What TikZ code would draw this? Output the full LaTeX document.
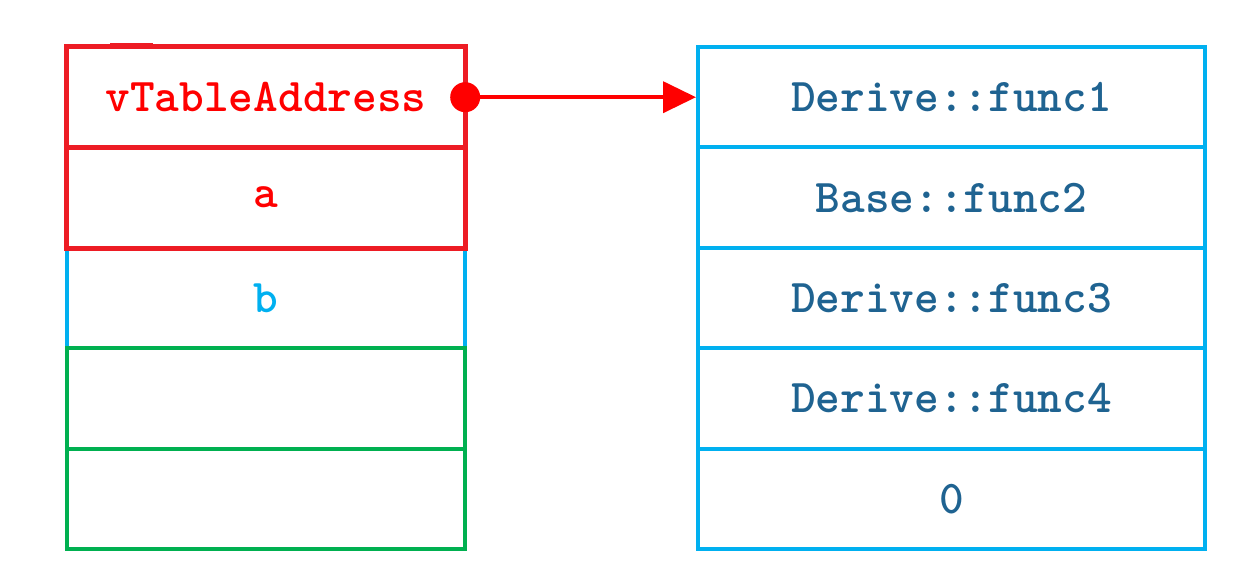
\documentclass[tikz,border=0pt]{standalone}
\usepackage{fontspec}
\usetikzlibrary{arrows.meta}
\definecolor{boxred}{HTML}{ED1C24}
\definecolor{txtred}{HTML}{FF0000}
\definecolor{boxcyan}{HTML}{00B0F0}
\definecolor{boxgreen}{HTML}{00B050}
\definecolor{txtblue}{HTML}{1F6391}
\begin{document}
\begin{tikzpicture}[x=1pt,y=-1pt,
  lcell/.style={rectangle, inner sep=0pt, minimum width=398pt, minimum height=100.4pt,
    font=\ttfamily\bfseries\fontsize{47}{47}\selectfont},
  rcell/.style={rectangle, inner sep=0pt, minimum width=507pt, minimum height=100.4pt,
    draw=boxcyan, line width=4pt, text=txtblue,
    font=\ttfamily\bfseries\fontsize{47}{47}\selectfont},
  redline/.style={draw=boxred, line width=5pt},
  cyanline/.style={draw=boxcyan, line width=4pt},
  greenline/.style={draw=boxgreen, line width=3.5pt}]
\useasboundingbox (0,0) rectangle (1244,586);
% left column
\node[lcell, text=txtred] (l1) at (266,97.2) {vTableAddress};
\node[lcell, text=txtred] (l2) at (266,197.6) {a};
\node[lcell, text=boxcyan] (l3) at (266,298.0) {b};
\node[lcell] (l4) at (266,398.4) {};
\node[lcell] (l5) at (266,498.8) {};
% right column
\node[rcell] (r1) at (951.5,97.2) {Derive::func1};
\node[rcell] (r2) at (951.5,197.6) {Base::func2};
\node[rcell] (r3) at (951.5,298.0) {Derive::func3};
\node[rcell] (r4) at (951.5,398.4) {Derive::func4};
\node[rcell] (r5) at (951.5,498.8) {0};
% borders of left column
\draw[cyanline] (l3.north west) -- (l3.south west);
\draw[cyanline] (l3.north east) -- (l3.south east);
\draw[greenline] (l4.north west) rectangle (l5.south east);
\draw[greenline] (l4.south west) -- (l4.south east);
\draw[redline] (l1.north west) rectangle (l2.south east);
\draw[redline] (l1.south west) -- (l1.south east);
\fill[boxred] (110,43) rectangle (153,48);
% pointer
\fill[txtred] (l1.east) circle (15pt);
\draw[txtred, line width=4pt, -{Triangle[length=33pt,width=31pt]}] (l1.east) -- (r1.west);
\end{tikzpicture}
\end{document}
